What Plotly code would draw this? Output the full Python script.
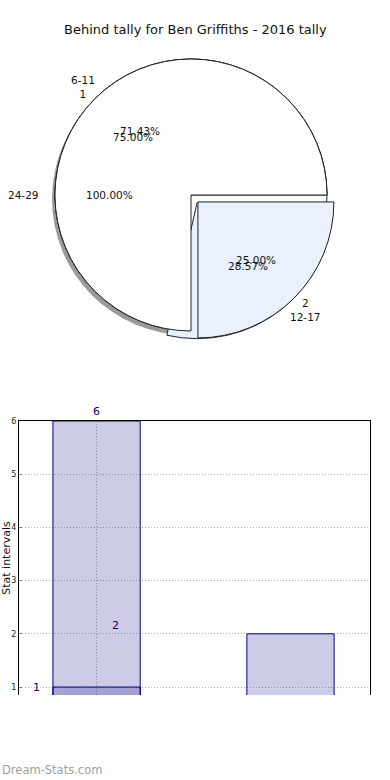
import math
import plotly.graph_objects as go

# ---------------- data ----------------
title_text = "Behind tally for Ben Griffiths - 2016 tally"

pie_a_labels = ["24-29"]
pie_a_values = [1]
pie_a_outer = ["24-29"]

pie_b_labels = ["12-17", "6-11"]
pie_b_values = [2, 6]
pie_b_outer = ["2<br>12-17", "6-11<br>1"]

pie_c_labels = ["12-17", "6-11"]
pie_c_values = [2, 5]

bar_x = [0, 1]
bar_main = [6, 2]
bar_over_x = [0]
bar_over = [1]
y_ticks = [1, 2, 3, 4, 5, 6]

# ---------------- layout constants ----------------
W, H = 390, 780
CX, CY = 191, 195          # pie centre, px
R = 136                    # pie radius, px
PULL = 0.072
ROT = 90                   # first slice starts at 3 o'clock, clockwise

def px_x(x):
    return x / W

def px_y(y):
    return 1 - y / H

def domain(cx, cy, half):
    return dict(x=[px_x(cx - half), px_x(cx + half)],
                y=[px_y(cy + half), px_y(cy - half)])

fig = go.Figure()

LINE = dict(color="#222222", width=1)
WHITE = "#ffffff"
BLUE = "#eaf0fd"

# shadow
fig.add_trace(go.Pie(values=pie_a_values, labels=pie_a_labels, sort=False,
                     domain=domain(CX - 3, CY + 4, R),
                     marker=dict(colors=["#9a9a9a"], line=dict(width=0)),
                     textinfo="none", hoverinfo="skip", showlegend=False))
# pie A (100%)
fig.add_trace(go.Pie(values=pie_a_values, labels=pie_a_labels, sort=False,
                     domain=domain(CX, CY, R), rotation=ROT, direction="clockwise",
                     marker=dict(colors=[WHITE], line=LINE),
                     textinfo="none", showlegend=False))
# pie C (71.43 / 28.57)
fig.add_trace(go.Pie(values=pie_c_values, labels=pie_c_labels, sort=False,
                     domain=domain(CX, CY, R * (1 + PULL)), rotation=ROT,
                     direction="clockwise", pull=[PULL, 0],
                     marker=dict(colors=[BLUE, WHITE], line=LINE),
                     textinfo="none", showlegend=False))
# pie B (75 / 25)
fig.add_trace(go.Pie(values=pie_b_values, labels=pie_b_labels, sort=False,
                     domain=domain(CX, CY, R * (1 + PULL)), rotation=ROT,
                     direction="clockwise", pull=[PULL, 0],
                     marker=dict(colors=[BLUE, WHITE], line=LINE),
                     textinfo="none", showlegend=False))

annotations = []
PFONT = dict(size=10.5, color="#111111")

def pie_texts(values, pulls, outer=None):
    tot = sum(values)
    start = ROT
    for i, v in enumerate(values):
        frac = v / tot
        mid = math.radians(start + frac * 180)
        sx, sy = math.sin(mid), -math.cos(mid)
        ox = CX + pulls[i] * R * sx
        oy = CY + pulls[i] * R * sy
        # percentage
        annotations.append(dict(
            x=px_x(ox + 0.6 * R * sx), y=px_y(oy + 0.6 * R * sy),
            xref="paper", yref="paper", text=f"{frac * 100:.2f}%",
            xanchor="center", yanchor="middle",
            showarrow=False, font=PFONT))
        if outer is not None:
            if sx < -0.9:
                anchor, f = "right", 1.1
            elif sx > 0.9:
                anchor, f = "left", 1.1
            else:
                anchor, f = "center", 1.12
            annotations.append(dict(
                x=px_x(ox + f * R * sx), y=px_y(oy + f * R * sy),
                xref="paper", yref="paper", text=outer[i],
                xanchor=anchor, yanchor="middle",
                showarrow=False, font=PFONT))
        start += frac * 360

pie_texts(pie_a_values, [0], pie_a_outer)
pie_texts(pie_c_values, [PULL, 0])
pie_texts(pie_b_values, [PULL, 0], pie_b_outer)

# ---------------- bars ----------------
BAR_FILL = "rgba(0,0,128,0.2)"
BAR_LINE = dict(color="#000080", width=1)
fig.add_trace(go.Bar(x=bar_x, y=bar_main, width=0.45, marker=dict(color=BAR_FILL, line=BAR_LINE),
                     showlegend=False, xaxis="x", yaxis="y"))
fig.add_trace(go.Bar(x=bar_over_x, y=bar_over, width=0.45, marker=dict(color=BAR_FILL, line=BAR_LINE),
                     showlegend=False, xaxis="x", yaxis="y"))

LBL = dict(size=11, color="#000080")
annotations.append(dict(x=bar_x[0], y=bar_main[0], xref="x", yref="y", text=str(bar_main[0]),
                        showarrow=False, xanchor="center", yanchor="bottom", yshift=1, font=LBL))
annotations.append(dict(x=bar_x[1] - 0.9, y=bar_main[1], xref="x", yref="y", text=str(bar_main[1]),
                        showarrow=False, xanchor="center", yanchor="bottom", font=LBL))
annotations.append(dict(x=bar_over_x[0] - 0.31, y=bar_over[0], xref="x", yref="y", text=str(bar_over[0]),
                        showarrow=False, xanchor="center", yanchor="middle", font=LBL))

# title & watermark
annotations.append(dict(x=0.5, y=px_y(30), xref="paper", yref="paper", text=title_text,
                        xanchor="center", yanchor="middle",
                        showarrow=False, font=dict(size=13, color="#111111")))
annotations.append(dict(x=0, y=px_y(770), xref="paper", yref="paper", text="Dream-Stats.com",
                        xanchor="left", yanchor="middle", showarrow=False,
                        font=dict(size=11.5, color="#a0a0a0", family="DejaVu Sans")))

GRID = "#b0b0b0"
GDASH = "1px,2px"
fig.update_layout(
    width=W, height=H, margin=dict(l=0, r=0, t=0, b=0),
    paper_bgcolor="white", plot_bgcolor="white",
    font=dict(family="DejaVu Sans"),
    barmode="overlay",
    annotations=annotations,
    xaxis=dict(domain=[px_x(19), px_x(370)], range=[-0.4, 1.41], side="top",
               tickvals=[0], showticklabels=False, ticks="",
               showgrid=True, gridcolor=GRID, griddash=GDASH, gridwidth=1,
               showline=True, linecolor="black", linewidth=1, zeroline=False, fixedrange=True),
    yaxis=dict(domain=[px_y(695), px_y(421)], range=[0.85, 6.0],
               tickvals=y_ticks, tickfont=dict(size=8, color="#222222"),
               ticks="inside", ticklen=3, tickcolor="#888888",
               showgrid=True, gridcolor=GRID, griddash=GDASH, gridwidth=1,
               showline=True, mirror=True, linecolor="black", linewidth=1, zeroline=False,
               title=dict(text="Stat intervals", font=dict(size=11, color="#111111"), standoff=2),
               automargin=False, fixedrange=True),
)

fig.write_html("out.html", config={"displayModeBar": False},
               post_script="document.body.style.margin='0';")
